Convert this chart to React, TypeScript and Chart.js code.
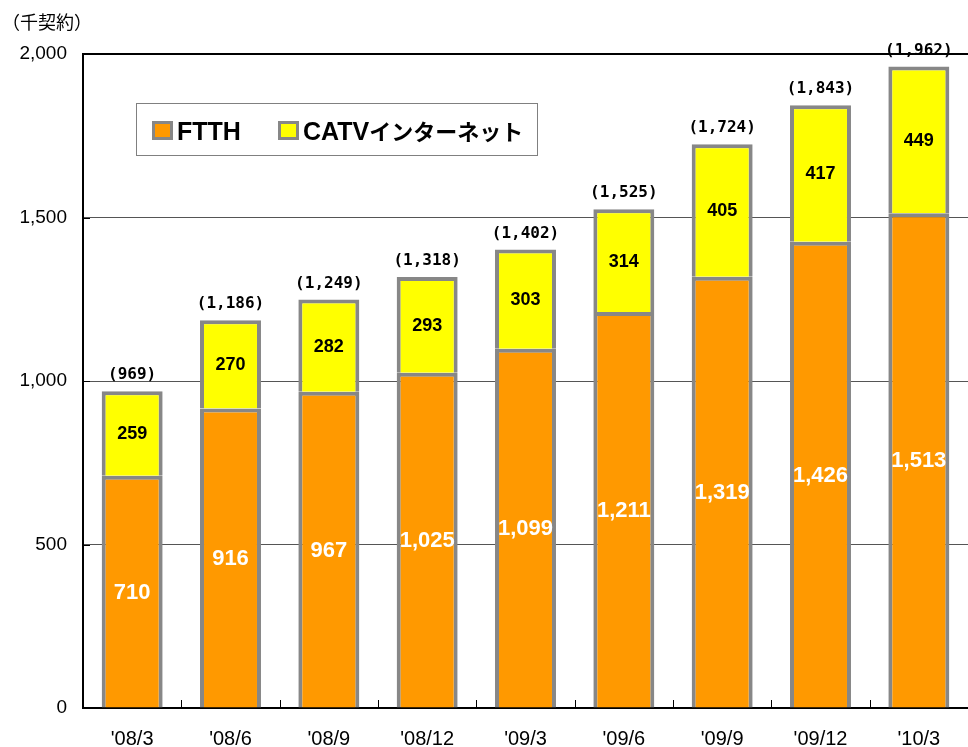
import React, { useEffect, useRef } from "react";
import { Chart, registerables } from "chart.js";

Chart.register(...registerables);

const categories = ["'08/3", "'08/6", "'08/9", "'08/12", "'09/3", "'09/6", "'09/9", "'09/12", "'10/3"];
const ftth = [710, 916, 967, 1025, 1099, 1211, 1319, 1426, 1513];
const catv = [259, 270, 282, 293, 303, 314, 405, 417, 449];
const totals = [969, 1186, 1249, 1318, 1402, 1525, 1724, 1843, 1962];
const seriesNames = ["FTTH", "CATVインターネット"];
const yTitle = "（千契約）";

const ORANGE = "#FF9900";
const YELLOW = "#FFFF00";
const BORDER = "#878787";

const fmt = (v: number) => v.toLocaleString("en-US");

const labelPlugin = {
  id: "customLabels",
  afterDatasetsDraw(chart: any) {
    const ctx = chart.ctx;
    const area = chart.chartArea;
    ctx.save();
    // x-axis category separator ticks
    const xs = chart.scales.x;
    ctx.strokeStyle = "#000";
    ctx.lineWidth = 1;
    for (let i = 1; i < categories.length; i++) {
      const x = Math.round((xs.getPixelForValue(i - 1) + xs.getPixelForValue(i)) / 2) + 0.5;
      ctx.beginPath();
      ctx.moveTo(x, area.bottom);
      ctx.lineTo(x, area.bottom - 8);
      ctx.stroke();
    }
    // y-axis minor tick marks
    const ys = chart.scales.y;
    [500, 1000, 1500].forEach((v) => {
      const y = Math.round(ys.getPixelForValue(v)) + 0.5;
      ctx.beginPath();
      ctx.moveTo(area.left, y);
      ctx.lineTo(area.left + 7, y);
      ctx.stroke();
    });

    const m0 = chart.getDatasetMeta(0);
    const m1 = chart.getDatasetMeta(1);
    ctx.textAlign = "center";
    ctx.textBaseline = "middle";
    m0.data.forEach((bar: any, i: number) => {
      ctx.font = "bold 22px 'Liberation Sans', Arial, sans-serif";
      ctx.fillStyle = "#FFFFFF";
      ctx.fillText(fmt(ftth[i]), bar.x, (bar.y + bar.base) / 2 + 1);
    });
    m1.data.forEach((bar: any, i: number) => {
      ctx.font = "bold 18px 'Liberation Sans', Arial, sans-serif";
      ctx.fillStyle = "#000000";
      ctx.fillText(fmt(catv[i]), bar.x, (bar.y + bar.base) / 2 + 1);
      ctx.font = "bold 16px 'DejaVu Sans Mono', 'Liberation Mono', monospace";
      ctx.fillText("(" + fmt(totals[i]) + ")", bar.x, bar.y - 16);
    });

    // legend
    const lx = 136, ly = 103, lw = 401, lh = 52;
    ctx.fillStyle = "#FFFFFF";
    ctx.fillRect(lx, ly, lw, lh);
    ctx.strokeStyle = "#808080";
    ctx.lineWidth = 1;
    ctx.strokeRect(lx + 0.5, ly + 0.5, lw, lh);
    const sq = (x: number, color: string) => {
      ctx.fillStyle = BORDER;
      ctx.fillRect(x, 121, 21, 19);
      ctx.fillStyle = color;
      ctx.fillRect(x + 3, 124, 15, 13);
    };
    sq(152, ORANGE);
    sq(278, YELLOW);
    ctx.fillStyle = "#000";
    ctx.textAlign = "left";
    ctx.textBaseline = "alphabetic";
    ctx.font = "bold 25px 'Liberation Sans', Arial, sans-serif";
    ctx.fillText(seriesNames[0], 177, 140);
    const catvPart = "CATV";
    ctx.fillText(catvPart, 303, 140);
    const w = ctx.measureText(catvPart).width;
    ctx.font = "bold 22px 'Noto Sans CJK JP', sans-serif";
    ctx.fillText(seriesNames[1].slice(catvPart.length), 303 + w, 140);

    // y title
    ctx.font = "18px 'Noto Sans CJK JP', sans-serif";
    ctx.textBaseline = "middle";
    ctx.fillText(yTitle, 2, 22);
    ctx.restore();
  },
};

export default function App() {
  const ref = useRef<HTMLCanvasElement>(null);
  useEffect(() => {
    if (!ref.current) return;
    const chart = new Chart(ref.current, {
      type: "bar",
      data: {
        labels: categories,
        datasets: [
          {
            label: seriesNames[0],
            data: ftth,
            backgroundColor: ORANGE,
            borderColor: BORDER,
            borderWidth: 4,
          },
          {
            label: seriesNames[1],
            data: catv,
            backgroundColor: YELLOW,
            borderColor: BORDER,
            borderWidth: 4,
          },
        ],
      },
      options: {
        responsive: false,
        animation: false,
        devicePixelRatio: 1,
        layout: { padding: { top: 54, right: 0, left: 0, bottom: 0 } },
        datasets: { bar: { barPercentage: 1, categoryPercentage: 0.62 } },
        plugins: { legend: { display: false }, tooltip: { enabled: false } },
        scales: {
          x: {
            stacked: true,
            grid: { display: false, drawTicks: false },
            border: { display: true, color: "#000", width: 2 },
            ticks: {
              color: "#000",
              padding: 19,
              font: { family: "'Liberation Sans', Arial, sans-serif", size: 20 },
            },
            afterFit: (s: any) => {
              s.height = 39;
            },
          },
          y: {
            stacked: true,
            min: 0,
            max: 2000,
            grid: {
              drawTicks: false,
              color: (c: any) => (c.tick && c.tick.value === 2000 ? "#000" : "#555"),
              lineWidth: (c: any) => (c.tick && c.tick.value === 2000 ? 2 : 1),
            },
            border: { display: true, color: "#000", width: 2 },
            ticks: {
              stepSize: 500,
              color: "#000",
              padding: 16,
              font: { family: "'Liberation Sans', Arial, sans-serif", size: 19 },
              callback: (v: any) => fmt(Number(v)),
            },
            afterFit: (s: any) => {
              s.width = 83;
            },
          },
        },
      },
      plugins: [labelPlugin],
    });
    return () => chart.destroy();
  }, []);
  return (
    <div style={{ position: "absolute", left: 0, top: 0, width: 968, height: 747, background: "#fff" }}>
      <canvas ref={ref} width={968} height={747} />
    </div>
  );
}
